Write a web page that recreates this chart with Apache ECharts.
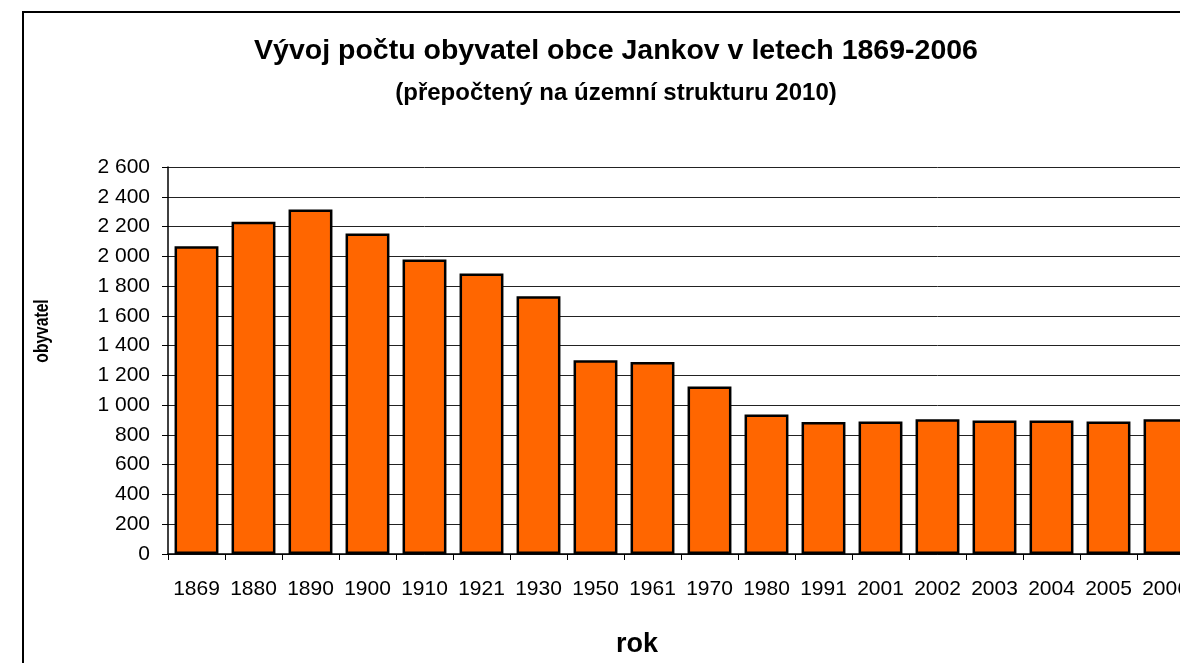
<!DOCTYPE html>
<html>
<head>
<meta charset="utf-8">
<script src="https://cdn.jsdelivr.net/npm/echarts@6/dist/echarts.min.js"></script>
<style>
  html, body { margin: 0; padding: 0; background: #fff; overflow: hidden; }
  /* chart is a bit wider than the window: the last bar is cut off like in the original */
  #chart { width: 1194px; height: 663px; }
</style>
</head>
<body>
<div id="chart"></div>
<script>
// data
var years = ["1869", "1880", "1890", "1900", "1910", "1921", "1930", "1950", "1961",
             "1970", "1980", "1991", "2001", "2002", "2003", "2004", "2005", "2006"];
var obyvatel = [2067, 2233, 2314, 2153, 1978, 1884, 1732, 1301, 1290,
                1125, 938, 887, 890, 905, 897, 897, 890, 905];
var yTicks = [0, 200, 400, 600, 800, 1000, 1200, 1400, 1600, 1800, 2000, 2200, 2400, 2600];

var font = "Liberation Sans, Arial, sans-serif";

function fmt(v) {
  // 2600 -> "2 600"
  var s = String(v);
  return s.length > 3 ? s.slice(0, s.length - 3) + " " + s.slice(-3) : s;
}

var myChart = echarts.init(document.getElementById("chart"));
myChart.setOption({
  animation: false,
  backgroundColor: "#fff",
  title: [
    {
      text: "Vývoj počtu obyvatel obce Jankov v letech 1869-2006",
      left: 611, top: 32, textAlign: "center",
      textStyle: { fontFamily: font, fontSize: 28.5, fontWeight: "bold", color: "#000" }
    },
    {
      text: "(přepočtený na územní strukturu 2010)",
      left: 611, top: 76, textAlign: "center",
      textStyle: { fontFamily: font, fontSize: 24, fontWeight: "bold", color: "#000" }
    }
  ],
  graphic: [
    {
      type: "rect",
      shape: { x: 23, y: 12, width: 1400, height: 900 },
      style: { fill: "none", stroke: "#000", lineWidth: 2 },
      silent: true
    },
    {
      type: "text",
      x: 42, y: 331, rotation: Math.PI / 2, scaleX: 0.78,
      style: {
        text: "obyvatel", fontFamily: font, fontSize: 20, fontWeight: "bold",
        fill: "#000", align: "center", verticalAlign: "middle"
      }
    }
  ],
  grid: { left: 168, right: 0, top: 167, bottom: 108 },
  xAxis: {
    type: "category",
    data: years,
    name: "rok",
    nameLocation: "middle",
    nameGap: 77,
    nameTextStyle: { fontFamily: font, fontSize: 27, fontWeight: "bold", color: "#000", padding: [0, 88, 0, 0] },
    axisLine: { lineStyle: { color: "#000", width: 1.5 } },
    axisTick: { show: true, length: 6, lineStyle: { color: "#000" } },
    axisLabel: { interval: 0, fontFamily: font, fontSize: 21, color: "#000", margin: 25 }
  },
  yAxis: {
    type: "value",
    min: yTicks[0],
    max: yTicks[yTicks.length - 1],
    interval: 200,
    axisLine: { show: true, lineStyle: { color: "#000", width: 1.5 } },
    axisTick: { show: true, length: 6, lineStyle: { color: "#000" } },
    axisLabel: { fontFamily: font, fontSize: 21, color: "#000", margin: 18, formatter: fmt },
    splitLine: { show: true, lineStyle: { color: "#222", width: 1 } }
  },
  series: [
    {
      type: "bar",
      data: obyvatel,
      barCategoryGap: "23%",
      itemStyle: { color: "#FF6600", borderColor: "#000", borderWidth: 2.5 }
    }
  ]
});
window.onresize = function () {
  myChart.resize();
};
</script>
</body>
</html>
